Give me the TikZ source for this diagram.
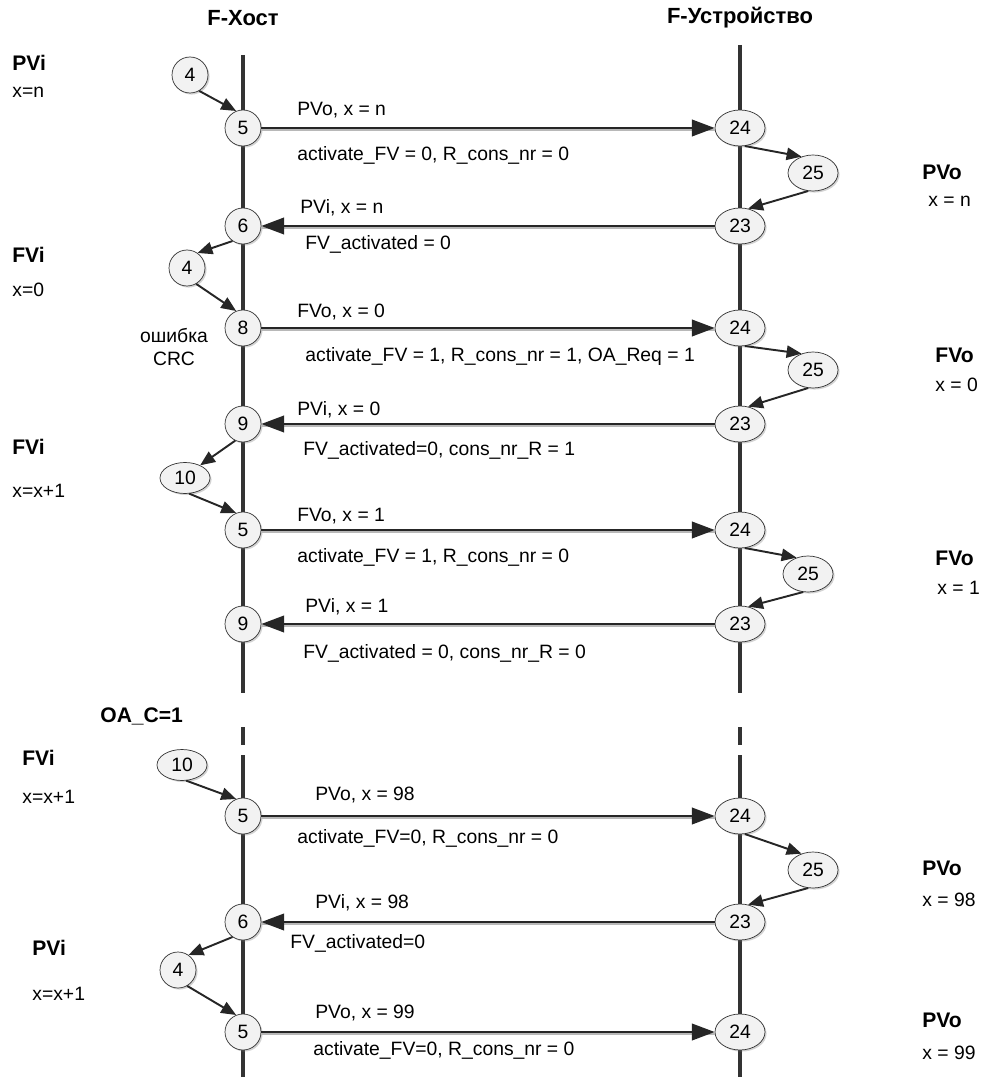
\documentclass[tikz,border=0pt]{standalone}
\usepackage{fontspec}
\setmainfont{Liberation Sans}
\definecolor{lifegray}{gray}{0.20}
\definecolor{nodefill}{gray}{0.95}
\definecolor{shadegray}{gray}{0.72}
\usetikzlibrary{arrows.meta,shapes.geometric,shadows}
\tikzset{
  life/.style={lifegray,line width=2.6pt},
  msg/.style={-{Triangle[length=13pt,width=9.5pt]},line width=1.1pt,black!85,
    preaction={draw=shadegray,line width=1.1pt,-,transform canvas={yshift=-1.0pt}}},
  loopar/.style={-{Triangle[length=8.5pt,width=7pt]},line width=1.1pt,black!85},
  nshade/.style={drop shadow={shadow xshift=0.9pt,shadow yshift=-0.9pt,opacity=0.35}},
  hnode/.style={circle,draw=black!80,fill=nodefill,minimum size=0.72cm,inner sep=0pt,nshade},
  dnode/.style={ellipse,draw=black!80,fill=nodefill,minimum width=1.0cm,minimum height=0.72cm,inner sep=0pt,nshade},
  lnode/.style={ellipse,draw=black!80,fill=nodefill,minimum width=1.0cm,minimum height=0.62cm,inner sep=0pt,nshade},
  mlab/.style={anchor=west,inner sep=0pt},
  hdr/.style={font=\fontsize{12.5}{14}\selectfont\bfseries},
  sidelab/.style={anchor=west,inner sep=0pt},
  sidebold/.style={anchor=west,inner sep=0pt,font=\fontsize{12}{14}\selectfont\bfseries},
}
\begin{document}
\begin{tikzpicture}[x=0.02cm,y=-0.02cm,font=\fontsize{11}{13}\selectfont]
  \useasboundingbox (0,0) rectangle (990,1077);
  % --- lifelines ---
  \draw[life] (243,55) -- (243,693);
  \draw[life] (243,727) -- (243,745);
  \draw[life] (243,755) -- (243,1077);
  \draw[life] (740,45) -- (740,693);
  \draw[life] (740,727) -- (740,745);
  \draw[life] (740,755) -- (740,1077);
  % headers
  \node[hdr] (host) at (243,18) {F-Хост};
  \node[hdr] (dev)  at (740,18) {F-Устройство};
  % --- host side nodes ---
  \node[hnode] (ha) at (190,75)  {4};
  \node[hnode] (hb) at (243,128) {5};
  \node[hnode] (hc) at (243,226) {6};
  \node[hnode] (hd) at (187,268) {4};
  \node[hnode] (he) at (243,328) {8};
  \node[hnode] (hf) at (243,424) {9};
  \node[lnode] (hg) at (185,478) {10};
  \node[hnode] (hh) at (243,530) {5};
  \node[hnode] (hi) at (243,624) {9};
  \node[lnode] (hj) at (182,765) {10};
  \node[hnode] (hk) at (243,816) {5};
  \node[hnode] (hl) at (243,922) {6};
  \node[hnode] (hm) at (178,970) {4};
  \node[hnode] (hn) at (243,1032){5};
  % --- device side nodes ---
  \node[dnode] (da) at (740,128) {24};
  \node[dnode] (db) at (813,173) {25};
  \node[dnode] (dc) at (740,226) {23};
  \node[dnode] (dd) at (740,328) {24};
  \node[dnode] (de) at (813,370) {25};
  \node[dnode] (df) at (740,424) {23};
  \node[dnode] (dg) at (740,530) {24};
  \node[dnode] (dh) at (808,574) {25};
  \node[dnode] (di) at (740,624) {23};
  \node[dnode] (dj) at (740,816) {24};
  \node[dnode] (dk) at (813,870) {25};
  \node[dnode] (dl) at (740,922) {23};
  \node[dnode] (dm) at (740,1032){24};
  % --- messages ---
  \draw[msg] (hb) -- (da);
  \draw[msg] (dc) -- (hc);
  \draw[msg] (he) -- (dd);
  \draw[msg] (df) -- (hf);
  \draw[msg] (hh) -- (dg);
  \draw[msg] (di) -- (hi);
  \draw[msg] (hk) -- (dj);
  \draw[msg] (dl) -- (hl);
  \draw[msg] (hn) -- (dm);
  % local steps
  \draw[loopar] (ha.-60) -- (hb.112);
  \draw[loopar] (hc.-125) -- (hd.55);
  \draw[loopar] (hd.-60) -- (he.112);
  \draw[loopar] (hf.-115) -- (hg.40);
  \draw[loopar] (hg.-75) -- (hh.112);
  \draw[loopar] (hj.-75) -- (hk.112);
  \draw[loopar] (hl.-125) -- (hm.55);
  \draw[loopar] (hm.-60) -- (hn.112);
  \draw[loopar] (da.-75) -- (db.125);
  \draw[loopar] (db.-105) -- (dc.65);
  \draw[loopar] (dd.-75) -- (de.125);
  \draw[loopar] (de.-105) -- (df.65);
  \draw[loopar] (dg.-75) -- (dh.125);
  \draw[loopar] (dh.-105) -- (di.65);
  \draw[loopar] (dj.-75) -- (dk.125);
  \draw[loopar] (dk.-105) -- (dl.65);
  % --- message labels ---
  \node[mlab] (m1a) at (297,110) {PVo, x = n};
  \node[mlab] (m1b) at (297,155) {activate\_FV = 0, R\_cons\_nr = 0};
  \node[mlab] (m2a) at (300,208) {PVi, x = n};
  \node[mlab] (m2b) at (305,244) {FV\_activated = 0};
  \node[mlab] (m3a) at (297,312) {FVo, x = 0};
  \node[mlab] (m3b) at (305,357) {activate\_FV = 1, R\_cons\_nr = 1, OA\_Req = 1};
  \node[mlab] (m4a) at (297,410) {PVi, x = 0};
  \node[mlab] (m4b) at (303,450) {FV\_activated=0, cons\_nr\_R = 1};
  \node[mlab] (m5a) at (297,516) {FVo, x = 1};
  \node[mlab] (m5b) at (297,557) {activate\_FV = 1, R\_cons\_nr = 0};
  \node[mlab] (m6a) at (305,607) {PVi, x = 1};
  \node[mlab] (m6b) at (303,653) {FV\_activated = 0, cons\_nr\_R = 0};
  \node[mlab] (m7a) at (315,795) {PVo, x = 98};
  \node[mlab] (m7b) at (297,838) {activate\_FV=0, R\_cons\_nr = 0};
  \node[mlab] (m8a) at (315,903) {PVi, x = 98};
  \node[mlab] (m8b) at (290,943) {FV\_activated=0};
  \node[mlab] (m9a) at (315,1013) {PVo, x = 99};
  \node[mlab] (m9b) at (313,1050) {activate\_FV=0, R\_cons\_nr = 0};
  % --- host state labels ---
  \node[sidebold] (s1a) at (12,63)  {PVi};
  \node[sidelab]  (s1b) at (12,92)  {x=n};
  \node[sidebold] (s2a) at (12,255) {FVi};
  \node[sidelab]  (s2b) at (12,290) {x=0};
  \node[align=center,inner sep=0pt] (crc) at (174,347) {ошибка\\CRC};
  \node[sidebold] (s3a) at (12,447) {FVi};
  \node[sidelab]  (s3b) at (12,491) {x=x+1};
  \node[sidebold] (oac) at (100,716) {OA\_C=1};
  \node[sidebold] (s4a) at (22,758) {FVi};
  \node[sidelab]  (s4b) at (22,797) {x=x+1};
  \node[sidebold] (s5a) at (32,948) {PVi};
  \node[sidelab]  (s5b) at (32,994) {x=x+1};
  % --- device state labels ---
  \node[sidebold] (r1a) at (922,172) {PVo};
  \node[sidelab]  (r1b) at (928,201) {x = n};
  \node[sidebold] (r2a) at (935,355) {FVo};
  \node[sidelab]  (r2b) at (935,385) {x = 0};
  \node[sidebold] (r3a) at (935,558) {FVo};
  \node[sidelab]  (r3b) at (937,588) {x = 1};
  \node[sidebold] (r4a) at (922,868) {PVo};
  \node[sidelab]  (r4b) at (922,900) {x = 98};
  \node[sidebold] (r5a) at (922,1020) {PVo};
  \node[sidelab]  (r5b) at (922,1053) {x = 99};
\end{tikzpicture}
\end{document}
